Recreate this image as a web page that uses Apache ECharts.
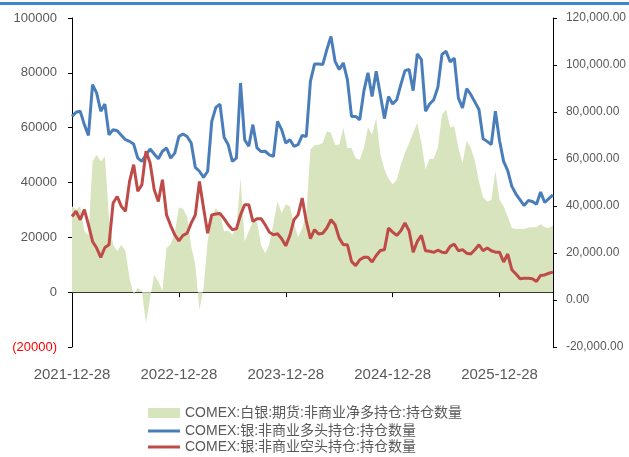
<!DOCTYPE html>
<html>
<head>
<meta charset="utf-8">
<script src="https://cdn.jsdelivr.net/npm/echarts@6/dist/echarts.min.js"></script>
<style>
  html, body { margin: 0; padding: 0; background: #fff; }
  #chart { width: 629px; height: 457px; }
</style>
</head>
<body>
<div id="chart"></div>
<script>
// 每两周一个点，从 2021-12-28 开始
const startDate = '2021-12-28';
const tickLabels = ['2021-12-28', '2022-12-28', '2023-12-28', '2024-12-28', '2025-12-28'];

const nameNet = 'COMEX:白银:期货:非商业净多持仓:持仓数量';
const nameLong = 'COMEX:银:非商业多头持仓:持仓数量';
const nameShort = 'COMEX:银:非商业空头持仓:持仓数量';

// 净多持仓 (面积)
const netData = [
  31300, 30100, 31300, 22200, 20900, 47700, 50100, 47700, 49500, 27000,
  17300, 14900, 17300, 14900, 5100, -1000, 1500, 200, -11300, -2200,
  6300, 3900, 500, 16100, 17500, 21500, 30900, 30400, 27600, 16700,
  10000, -6400, 1500, 18500, 27600, 30700, 28200, 22200, 22400, 20900,
  23400, 41600, 18500, 22200, 25800, 25800, 17000, 14200, 17500, 25200,
  33100, 28800, 32100, 31300, 25200, 20000, 23400, 28500, 52000, 53600,
  53800, 54400, 58700, 58100, 53800, 53800, 59900, 52600, 52600, 48900,
  48300, 52600, 60100, 57400, 63500, 50400, 44700, 41400, 39400, 41000,
  46500, 50800, 54400, 58100, 61700, 54400, 44700, 48700, 48700, 52800,
  64700, 66600, 60100, 60500, 52600, 47100, 55300, 52600, 48000, 40400,
  34600, 33100, 33600, 44100, 33700, 31300, 27600, 23400, 23000, 23100,
  23000, 23600, 23700, 23700, 24800, 23700, 23400, 24300
];

// 多头持仓
const longData = [
  64100, 65600, 66000, 61100, 57200, 75700, 72600, 66000, 68600, 57400,
  59300, 58900, 57200, 55600, 55000, 54000, 48900, 47700, 50100, 52200,
  50400, 48700, 51400, 52600, 48900, 50700, 56800, 57700, 56800, 54400,
  45500, 44100, 41900, 44100, 62300, 67400, 68600, 56500, 53800, 47700,
  48900, 76300, 55600, 53200, 61100, 52600, 51300, 51400, 50100, 49500,
  62300, 59300, 54400, 55600, 53200, 53800, 57200, 56800, 76900, 83200,
  83200, 83000, 88500, 93300, 84200, 81200, 83600, 77500, 64100, 64100,
  62900, 73300, 80000, 71400, 80600, 72100, 63300, 71400, 68600, 70200,
  75700, 80800, 81200, 73500, 86900, 84800, 66000, 68600, 70200, 74700,
  86700, 87900, 84000, 85400, 70800, 67200, 74200, 72100, 69400, 66600,
  56000, 55000, 53800, 66000, 55300, 47700, 44300, 38600, 35800, 33700,
  31600, 33400, 33100, 32100, 36500, 32700, 34100, 35500
];

// 空头持仓
const shortData = [
  27600, 29500, 26400, 30100, 24600, 18500, 16100, 12700, 16300, 17300,
  32500, 34900, 31300, 29500, 40400, 46500, 36800, 39200, 51400, 47100,
  37400, 33100, 41000, 28200, 24300, 20900, 18700, 20700, 21500, 25200,
  28200, 40400, 30700, 21500, 28200, 28500, 28700, 26800, 24600, 22800,
  23100, 28200, 31900, 31900, 25800, 26800, 26800, 24600, 21900, 20900,
  21300, 19500, 16900, 20700, 26400, 28200, 34300, 25800, 19500, 22800,
  21200, 21500, 23400, 26400, 24600, 19700, 17300, 17300, 11200, 9700,
  11800, 12700, 12700, 11000, 13400, 15200, 15500, 23400, 21900, 20700,
  22400, 25200, 22400, 14600, 18500, 20700, 15100, 14900, 14500, 15300,
  14600, 14400, 16700, 17500, 15100, 15500, 14200, 13900, 15500, 17300,
  15100, 16100, 15100, 14600, 14600, 11000, 13900, 8200, 6600, 4900,
  5100, 5100, 4900, 3900, 6100, 6300, 6900, 7300
];

// 日期类目
const categories = [];
(function () {
  const d0 = new Date(startDate + 'T00:00:00Z');
  for (let i = 0; i < longData.length; i++) {
    const d = new Date(d0.getTime() + i * 14 * 86400000);
    categories.push(d.toISOString().slice(0, 10));
  }
})();

const font = "'Liberation Sans', Arial, 'Noto Sans CJK SC', sans-serif";
const step = 26;
const legendText = { fontSize: 14, color: '#595959', fontFamily: font };

const myChart = echarts.init(document.getElementById('chart'));
const option = {
  backgroundColor: '#fff',
  animation: false,
  graphic: [{
    type: 'rect', left: 0, top: 2,
    shape: { width: 629, height: 3 },
    style: { fill: '#3d87c7' }
  }],
  grid: { left: 72, right: 73, top: 18, bottom: 110, containLabel: false },
  legend: [
    {
      orient: 'vertical',
      left: 148,
      top: 406,
      height: 30,
      padding: 0,
      itemWidth: 32,
      itemHeight: 10,
      textStyle: legendText,
      data: [{ name: nameNet, icon: 'rect' }]
    },
    {
      orient: 'vertical',
      left: 148,
      top: 424,
      height: 60,
      padding: 0,
      itemWidth: 32,
      itemHeight: 3,
      itemGap: 2,
      icon: 'rect',
      textStyle: legendText,
      data: [nameLong, nameShort]
    }
  ],
  xAxis: [
    {
      type: 'category',
      data: categories,
      boundaryGap: false,
      position: 'bottom',
      axisLine: { onZero: true, onZeroAxisIndex: 0, lineStyle: { color: '#000', width: 1 } },
      axisTick: { show: true, inside: false, length: 5, interval: (i) => i % step === 0, lineStyle: { color: '#000' } },
      axisLabel: { show: false },
      splitLine: { show: false }
    },
    {
      type: 'category',
      data: categories,
      boundaryGap: false,
      position: 'bottom',
      axisLine: { show: false, onZero: false },
      axisTick: { show: false },
      axisLabel: {
        interval: (i) => i % step === 0,
        formatter: (v, i) => tickLabels[Math.round(i / step)] || '',
        margin: 20,
        fontSize: 15,
        color: '#595959',
        fontFamily: font
      },
      splitLine: { show: false }
    }
  ],
  yAxis: [
    {
      type: 'value',
      position: 'left',
      min: -20000,
      max: 100000,
      interval: 20000,
      axisLine: { show: true, lineStyle: { color: '#000', width: 1 } },
      axisTick: { show: true, inside: false, length: 4, lineStyle: { color: '#000' } },
      splitLine: { show: false },
      axisLabel: {
        margin: 15,
        fontSize: 13,
        color: '#595959',
        fontFamily: font,
        formatter: (v) => v < 0 ? '{neg|(' + Math.abs(v) + ')}' : String(v),
        rich: { neg: { color: '#ff0000', fontSize: 13, fontFamily: font } }
      }
    },
    {
      type: 'value',
      position: 'right',
      min: -20000,
      max: 120000,
      interval: 20000,
      axisLine: { show: true, lineStyle: { color: '#000', width: 1 } },
      axisTick: { show: true, inside: false, length: 4, lineStyle: { color: '#000' } },
      splitLine: { show: false },
      axisLabel: {
        margin: 13,
        fontSize: 12,
        color: '#595959',
        fontFamily: font,
        formatter: (v) => v.toLocaleString('en-US', { minimumFractionDigits: 2, maximumFractionDigits: 2 })
      }
    }
  ],
  series: [
    {
      name: nameNet,
      type: 'line',
      xAxisIndex: 0,
      yAxisIndex: 0,
      data: netData,
      symbol: 'none',
      lineStyle: { width: 0 },
      itemStyle: { color: '#d7e4bd' },
      areaStyle: { color: '#d7e4bd', opacity: 1 }
    },
    {
      name: nameLong,
      type: 'line',
      xAxisIndex: 0,
      yAxisIndex: 0,
      data: longData,
      symbol: 'none',
      itemStyle: { color: '#4a7ebb' },
      lineStyle: { color: '#4a7ebb', width: 3 }
    },
    {
      name: nameShort,
      type: 'line',
      xAxisIndex: 0,
      yAxisIndex: 0,
      data: shortData,
      symbol: 'none',
      itemStyle: { color: '#be4b48' },
      lineStyle: { color: '#be4b48', width: 3 }
    }
  ]
};
myChart.setOption(option);
</script>
</body>
</html>
